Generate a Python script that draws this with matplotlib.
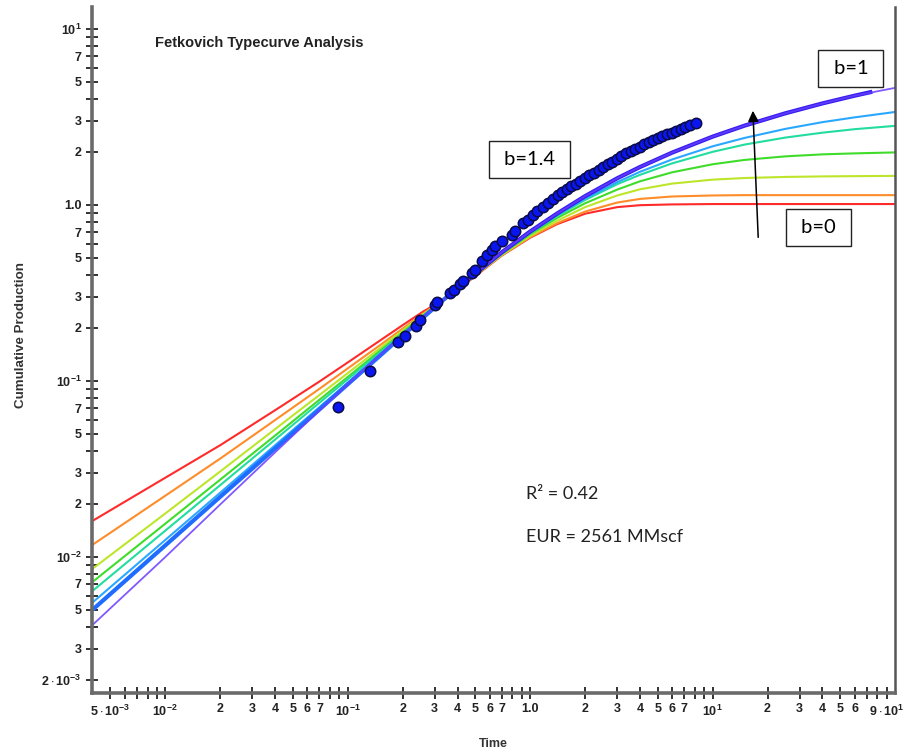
import matplotlib
matplotlib.use("Agg")
import matplotlib.pyplot as plt

plt.rcParams['font.family'] = ['Liberation Sans', 'DejaVu Sans']
plt.rcParams['mathtext.fontset'] = 'custom'
plt.rcParams['mathtext.rm'] = 'Liberation Sans:bold'
plt.rcParams['mathtext.it'] = 'Liberation Sans:bold'
plt.rcParams['mathtext.bf'] = 'Liberation Sans:bold'

# dimensionless time grid shared by the type curves
t_curve = [0.004, 0.01, 0.02, 0.04, 0.07, 0.1, 0.15, 0.2, 0.26, 0.35, 0.5, 0.7,
           1.0, 1.4, 2, 3, 4, 6, 10, 15, 25, 40, 60, 100]

q_b00 = [0.016, 0.0281, 0.043, 0.068, 0.099, 0.127, 0.169, 0.207, 0.248, 0.295, 0.393, 0.515,
         0.65, 0.775, 0.89, 0.97, 0.995, 1.005, 1.01, 1.01, 1.01, 1.01, 1.01, 1.01]
q_b01 = [0.0117, 0.0222, 0.0361, 0.0598, 0.090, 0.1175, 0.159, 0.198, 0.242, 0.296, 0.395, 0.517,
         0.655, 0.785, 0.915, 1.03, 1.08, 1.115, 1.13, 1.135, 1.135, 1.135, 1.135, 1.135]
q_b03 = [0.00855, 0.0176, 0.0305, 0.0531, 0.083, 0.1104, 0.153, 0.193, 0.239, 0.297, 0.398, 0.52,
         0.665, 0.81, 0.97, 1.13, 1.225, 1.32, 1.39, 1.42, 1.44, 1.45, 1.455, 1.46]
q_b05 = [0.0072, 0.0154, 0.0274, 0.0488, 0.078, 0.105, 0.148, 0.188, 0.236, 0.298, 0.400, 0.525,
         0.68, 0.84, 1.02, 1.22, 1.36, 1.53, 1.70, 1.80, 1.885, 1.935, 1.96, 1.985]
q_b07 = [0.0064, 0.01406, 0.0255, 0.0463, 0.075, 0.1019, 0.1445, 0.185, 0.232, 0.2987, 0.4023, 0.53,
         0.69, 0.86, 1.065, 1.31, 1.48, 1.72, 2.0, 2.2, 2.41, 2.57, 2.69, 2.81]
q_b08 = [0.0055, 0.01245, 0.0231, 0.0430, 0.0708, 0.0973, 0.1396, 0.1807, 0.2286, 0.2995, 0.4035, 0.533,
         0.695, 0.875, 1.085, 1.345, 1.54, 1.81, 2.15, 2.40, 2.70, 2.95, 3.14, 3.37]
q_b10 = [0.0041, 0.00995, 0.0198, 0.0392, 0.0677, 0.0953, 0.1398, 0.1823, 0.231, 0.3001, 0.4055, 0.538,
         0.705, 0.89, 1.12, 1.415, 1.64, 1.98, 2.44, 2.82, 3.31, 3.77, 4.17, 4.62]

# heavy b=1 trace, stops short of the right edge
t_thick = [0.004, 0.01, 0.02, 0.04, 0.07, 0.1, 0.15, 0.2, 0.26, 0.35, 0.5, 0.7,
           1.0, 1.4, 2, 3, 4, 6, 10, 15, 25, 40, 60, 75]
q_thick = [0.005, 0.01159, 0.0219, 0.0412, 0.0687, 0.0955, 0.1385, 0.1805, 0.2295, 0.3001, 0.4055, 0.538,
           0.705, 0.89, 1.12, 1.415, 1.64, 1.98, 2.44, 2.82, 3.31, 3.77, 4.17, 4.39]

# measured well data
t_data = [0.088, 0.132, 0.188, 0.206, 0.236, 0.249, 0.301, 0.308, 0.363, 0.382, 0.412, 0.428,
          0.48, 0.499, 0.545, 0.58, 0.618, 0.642, 0.702, 0.796, 0.828, 0.916, 0.975, 1.04,
          1.096, 1.175, 1.259, 1.334, 1.413, 1.496, 1.585, 1.679, 1.778, 1.884, 1.995, 2.113,
          2.239, 2.371, 2.512, 2.661, 2.818, 2.985, 3.162, 3.35, 3.548, 3.758, 3.981, 4.217,
          4.467, 4.732, 5.012, 5.309, 5.623, 5.957, 6.31, 6.683, 7.079, 7.551, 8.07]
q_data = [0.071, 0.114, 0.167, 0.180, 0.205, 0.222, 0.270, 0.281, 0.316, 0.329, 0.356, 0.370,
          0.411, 0.427, 0.481, 0.520, 0.555, 0.585, 0.624, 0.676, 0.711, 0.79, 0.822, 0.877,
          0.925, 0.973, 1.023, 1.076, 1.135, 1.180, 1.230, 1.274, 1.318, 1.368, 1.419, 1.469,
          1.524, 1.578, 1.637, 1.698, 1.762, 1.824, 1.892, 1.959, 2.028, 2.084, 2.143, 2.203,
          2.265, 2.323, 2.388, 2.449, 2.512, 2.564, 2.618, 2.685, 2.754, 2.838, 2.924]

x_major = [0.005, 0.01, 0.02, 0.03, 0.04, 0.05, 0.06, 0.07, 0.1, 0.2, 0.3, 0.4, 0.5, 0.6, 0.7,
           1, 2, 3, 4, 5, 6, 7, 10, 20, 30, 40, 50, 60, 90]
x_labels = [r'$5\cdot10^{-3}$', r'$10^{-2}$', '2', '3', '4', '5', '6', '7', r'$10^{-1}$',
            '2', '3', '4', '5', '6', '7', '1.0', '2', '3', '4', '5', '6', '7', r'$10^{1}$',
            '2', '3', '4', '5', '6', r'$9\cdot10^{1}$']
x_minor = [0.006, 0.007, 0.008, 0.009, 0.08, 0.09, 0.8, 0.9, 8, 9, 70, 80]

y_major = [0.002, 0.003, 0.005, 0.007, 0.01, 0.02, 0.03, 0.05, 0.07, 0.1,
           0.2, 0.3, 0.5, 0.7, 1, 2, 3, 5, 7, 10]
y_labels = [r'$2\cdot10^{-3}$', '3', '5', '7', r'$10^{-2}$', '2', '3', '5', '7', r'$10^{-1}$',
            '2', '3', '5', '7', '1.0', '2', '3', '5', '7', r'$10^{1}$']
y_minor = [0.004, 0.006, 0.008, 0.009, 0.04, 0.06, 0.08, 0.09, 0.4, 0.6, 0.8, 0.9,
           4, 6, 8, 9]

fig = plt.figure(figsize=(9.14, 7.51), dpi=100)
fig.patch.set_facecolor('white')
ax = fig.add_axes([0.1007, 0.0772, 0.8786, 0.9134])
ax.set_xscale('log')
ax.set_yscale('log')

curves = [(q_b00, '#ff2a2a'), (q_b01, '#ff8c2a'), (q_b03, '#bde62a'), (q_b05, '#3fdc2a'),
          (q_b07, '#22dca0'), (q_b08, '#2aa8ff')]
for q, c in curves:
    ax.plot(t_curve, q, color=c, lw=1.5, solid_capstyle='butt')
ax.plot(t_thick[:10], q_thick[:10], color='#1f6cff', lw=3.0, solid_capstyle='butt')
ax.plot(t_thick[9:], q_thick[9:], color='#3420ee', lw=3.0, solid_capstyle='butt')
ax.plot(t_curve, q_b10, color='#6a3cff', lw=1.3, alpha=0.85)

ax.plot(t_data, q_data, 'o', ms=7.5, mfc='#0a16f0', mec='#0b0b45', mew=1.1, zorder=5)

ax.set_xlim(0.00397, 100)
ax.set_ylim(0.00168, 13.3)

ax.xaxis.set_major_locator(matplotlib.ticker.FixedLocator(x_major))
ax.xaxis.set_major_formatter(matplotlib.ticker.FixedFormatter(x_labels))
ax.xaxis.set_minor_locator(matplotlib.ticker.FixedLocator(x_minor))
ax.xaxis.set_minor_formatter(matplotlib.ticker.NullFormatter())
ax.yaxis.set_major_locator(matplotlib.ticker.FixedLocator(y_major))
ax.yaxis.set_major_formatter(matplotlib.ticker.FixedFormatter(y_labels))
ax.yaxis.set_minor_locator(matplotlib.ticker.FixedLocator(y_minor))
ax.yaxis.set_minor_formatter(matplotlib.ticker.NullFormatter())

ax.tick_params(which='both', direction='inout', length=9, width=1.3, color='#222222',
               labelsize=9, pad=3)
for lab in ax.get_xticklabels() + ax.get_yticklabels():
    lab.set_fontweight('bold')
    lab.set_color('#222222')

for side in ['left', 'bottom']:
    ax.spines[side].set_color('#6a6a6a')
    ax.spines[side].set_linewidth(2.6)
ax.spines['right'].set_color('#555555')
ax.spines['right'].set_linewidth(1.8)
ax.spines['top'].set_visible(False)

ax.set_xlabel('Time', fontsize=9, fontweight='bold', color='#333333', labelpad=14)
ax.set_ylabel('Cumulative Production', fontsize=9.6, fontweight='bold', color='#333333')
ax.yaxis.set_label_coords(-0.081, 0.522)

fig.text(155 / 914, 1 - 43 / 751, 'Fetkovich Typecurve Analysis', fontsize=10.5,
         fontweight='bold', color='#222222', va='center', ha='left')

box = dict(boxstyle='square,pad=0.5', fc='white', ec='#222222', lw=1.0)
ax.text(0.545, 0.778, ' b=1.4 ', transform=ax.transAxes, fontsize=14.5, family='Lato',
        ha='center', va='center', bbox=box)
ax.text(0.945, 0.911, ' b=1 ', transform=ax.transAxes, fontsize=14.5, family='Lato',
        ha='center', va='center', bbox=box)
ax.text(0.905, 0.679, ' b=0 ', transform=ax.transAxes, fontsize=14.5, family='Lato',
        ha='center', va='center', bbox=box)

ax.annotate('', xy=(16.6, 3.55), xytext=(17.8, 0.63),
            arrowprops=dict(arrowstyle='-|>', color='black', lw=1.1, mutation_scale=16))

ax.text(0.540, 0.290, 'R² = 0.42', transform=ax.transAxes, fontsize=13, family='Lato',
        ha='left', va='center', color='#222222')
ax.text(0.540, 0.228, 'EUR = 2561 MMscf', transform=ax.transAxes, fontsize=13, family='Lato',
        ha='left', va='center', color='#222222')

fig.savefig('out.png', dpi=100, facecolor='white')
